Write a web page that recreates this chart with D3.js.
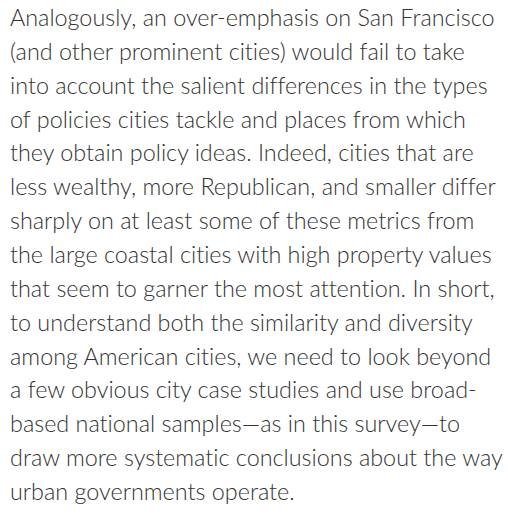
<!DOCTYPE html>
<meta charset="utf-8">
<title>Paragraph</title>
<script src="https://d3js.org/d3.v7.min.js"></script>
<style>
  body { margin: 0; background: #fff; }
  .line { font-family: Lato, "Open Sans", sans-serif; font-weight: 300; font-size: 20px; fill: #333;
          font-variant-ligatures: none; font-feature-settings: "liga" 0, "dlig" 0; }
</style>
<body>
<div id="page"></div>
<script>
// lines of the paragraph, as broken in the picture
var lines = [
  "Analogously, an over-emphasis on San Francisco",
  "(and other prominent cities) would fail to take",
  "into account the salient differences in the types",
  "of policies cities tackle and places from which",
  "they obtain policy ideas. Indeed, cities that are",
  "less wealthy, more Republican, and smaller differ",
  "sharply on at least some of these metrics from",
  "the large coastal cities with high property values",
  "that seem to garner the most attention. In short,",
  "to understand both the similarity and diversity",
  "among American cities, we need to look beyond",
  "a few obvious city case studies and use broad-",
  "based national samples\u2014as in this survey\u2014to",
  "draw more systematic conclusions about the way",
  "urban governments operate."
];
// first line's right edge in the picture, used to size the font
var firstLineWidth = 485;

var width = 508, height = 518;
var margin = {left: 10, top: 26};

var svg = d3.select("#page").append("svg")
    .attr("width", width)
    .attr("height", height);

var y = d3.scaleLinear()
    .domain([0, lines.length - 1])
    .range([margin.top, 500]);

var text = svg.selectAll("text.line")
  .data(lines)
  .enter().append("text")
    .attr("class", "line")
    .attr("x", margin.left)
    .attr("y", function(d, i) { return y(i); })
    .text(function(d) { return d; });

// scale font so first line matches width
var w = text.nodes()[0].getComputedTextLength();
text.style("font-size", (20 * firstLineWidth / w).toFixed(2) + "px");
</script>
</body>
